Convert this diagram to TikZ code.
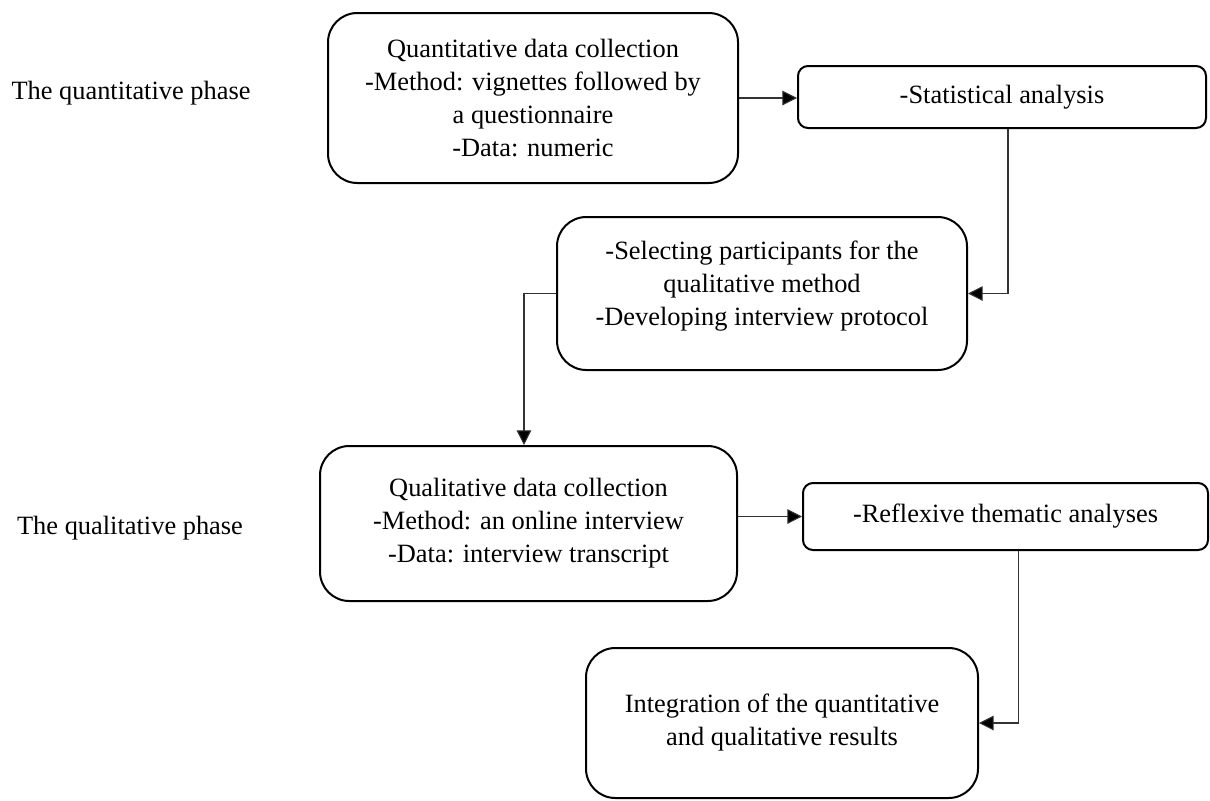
\documentclass[tikz,border=0pt]{standalone}
\usepackage{fontspec}
\setmainfont{Liberation Serif}
\usetikzlibrary{arrows.meta}
\begin{document}
\begin{tikzpicture}[x=0.75pt,y=-0.75pt,
  every node/.style={font=\fontsize{19.8}{24.75}\selectfont},
  box/.style={draw, line width=1.5pt, rounded corners=22pt, align=center, inner sep=0pt},
  smallbox/.style={box, rounded corners=7.5pt},
  txt/.style={align=center, inner sep=0pt},
  conn/.style={draw=black!80, line width=0.8pt, -{Triangle[length=11pt,width=11pt,fill=black]}}
]
\useasboundingbox (0,0) rectangle (1210,800);

\node[txt] (lq) at (131,93) {The quantitative phase};
\node[txt] (ll) at (130,528) {The qualitative phase};

\node[box, minimum width=307.5pt, minimum height=127.5pt] (b1) at (533,98)
  {Quantitative data collection\\-Method: vignettes followed by\\a questionnaire\\-Data: numeric};
\node[smallbox, minimum width=306pt, minimum height=46.5pt] (b2) at (1002,97)
  {-Statistical analysis};
\node[box, minimum width=307.5pt, minimum height=114.75pt] (b3) at (762,293.5) {};
\node[txt] (b3t) at (762,286.5)
  {-Selecting participants for the\\qualitative method\\-Developing interview protocol};
\node[box, minimum width=312.75pt, minimum height=116.25pt] (b4) at (528.5,523.5)
  {Qualitative data collection\\-Method: an online interview\\-Data: interview transcript};
\node[smallbox, minimum width=303.75pt, minimum height=50.25pt] (b5) at (1005.5,516.5)
  {-Reflexive thematic analyses};
\node[box, minimum width=294pt, minimum height=112.5pt] (b6) at (782,723)
  {Integration of the quantitative\\and qualitative results};

\draw[conn] (b1.east) -- (b1.east -| b2.west);
\draw[conn] ([xshift=4.5pt]b2.south) |- (b3.east);
\draw[conn] (b3.west) -| ([xshift=-3.4pt]b4.north);
\draw[conn] (b4.east |- b5.west) -- (b5.west);
\draw[conn] ([xshift=10pt]b5.south) |- (b6.east);
\end{tikzpicture}
\end{document}
